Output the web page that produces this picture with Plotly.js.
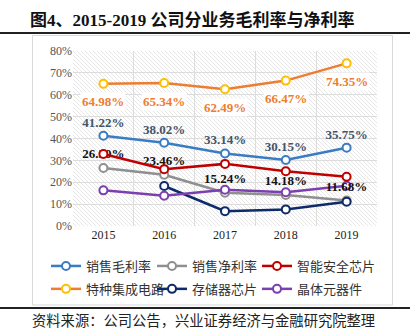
<!DOCTYPE html>
<html><head><meta charset="utf-8">
<script src="https://cdn.plot.ly/plotly-3.0.1.min.js"></script>
<style>html,body{margin:0;padding:0;background:#fff;}</style>
</head><body>
<div id="chart" style="width:420px;height:336px;"></div>
<script>
const years = ['2015','2016','2017','2018','2019'];
const grossMargin = [41.22, 38.02, 33.14, 30.15, 35.75];
const netMargin = [26.50, 23.46, 15.24, 14.18, 11.68];
const securityChip = [32.9, 26.0, 28.4, 25.0, 22.5];
const specialIC = [64.98, 65.34, 62.49, 66.47, 74.35];
const memoryChip = [null, 18.3, 6.8, 7.6, 11.1];
const crystalDevice = [16.3, 13.8, 16.6, 15.4, 18.4];
const names = ['销售毛利率','销售净利率','智能安全芯片','特种集成电路','存储器芯片','晶体元器件'];

const L = 73, T = 51, W = 304, H = 175;
const px = p => (p - L) / W;
const py = p => (T + H - p) / H;
const fmt = v => v.toFixed(2) + '%';
const serifB = 'Liberation Serif, Times New Roman, serif';

function series(name, legend, y, line, mk, extra) {
  return Object.assign({
    x: years, y: y, name: name, legend: legend, legendgroup: name, type: 'scatter', mode: 'lines+markers',
    line: {color: line, width: 2.5},
    marker: {symbol: 'circle', size: 8, color: '#ffffff', line: {color: mk, width: 2}},
    connectgaps: false, cliponaxis: false, hoverinfo: 'skip'
  }, extra || {});
}

const traces = [
  series(names[0], 'legend', grossMargin, '#3A7CC4', '#3A7CC4', {
    mode: 'lines+markers+text', text: grossMargin.map(fmt), textposition: 'top center',
    textfont: {family: serifB, size: 13, color: '#44546A', weight: 'bold'}
  }),
  series(names[3], 'legend', specialIC, '#ED7D31', '#FFC000'),
  series(names[1], 'legend2', netMargin, '#8F8F8F', '#8F8F8F'),
  series(names[4], 'legend2', memoryChip, '#0D2A6A', '#0D2A6A'),
  series(names[5], 'legend3', crystalDevice, '#7B3FB0', '#7B3FB0', {legendrank: 2}),
  {
    x: years, y: netMargin, type: 'scatter', mode: 'markers+text', showlegend: false, hoverinfo: 'skip',
    text: netMargin.map(fmt), textposition: 'top center', cliponaxis: false,
    marker: {size: 9, opacity: 0},
    textfont: {family: serifB, size: 13, color: '#111111', weight: 'bold'}
  },
  series(names[2], 'legend3', securityChip, '#C00000', '#C00000', {legendrank: 1})
];

const hatch = "<svg xmlns='http://www.w3.org/2000/svg' width='304' height='175'><defs><pattern id='p' width='4' height='4' patternUnits='userSpaceOnUse'><path d='M-1,-1 L5,5 M-1,3 L1,5 M3,-1 L5,1' stroke='#E0E0E0' stroke-width='0.8'/></pattern></defs><rect width='304' height='175' fill='url(#p)'/></svg>";

const annotations = specialIC.map((v, i) => ({
  x: i, y: v, xref: 'x', yref: 'y', text: fmt(v), showarrow: false,
  yshift: -18, bgcolor: '#ffffff', borderpad: 1,
  font: {family: serifB, size: 13, color: '#ED7D31', weight: 'bold'}
}));
annotations.push({
  xref: 'paper', yref: 'paper', x: px(30), y: py(319), xanchor: 'left', yanchor: 'middle',
  text: '资料来源：公司公告，兴业证券经济与金融研究院整理', showarrow: false,
  font: {family: 'Noto Sans CJK SC', size: 14.3, color: '#222222'}
});

const shapes = [
  {type: 'line', xref: 'paper', yref: 'paper', x0: px(0), x1: px(410), y0: py(33), y1: py(33), line: {color: '#222', width: 2}},
  {type: 'line', xref: 'paper', yref: 'paper', x0: px(0), x1: px(410), y0: py(308), y1: py(308), line: {color: '#222', width: 2}},
  {type: 'rect', xref: 'paper', yref: 'paper', x0: px(32.5), x1: px(392.5), y0: py(35.5), y1: py(305), line: {color: '#D9D9D9', width: 1}, layer: 'below'}
];

function legendAt(xpix) {
  return {
    orientation: 'v', x: px(xpix), y: py(251), xanchor: 'left', yanchor: 'top',
    traceorder: 'grouped', tracegroupgap: 3,
    font: {family: 'Noto Sans CJK SC', size: 13, color: '#333'}, bgcolor: 'rgba(0,0,0,0)'
  };
}

const layout = {
  width: 420, height: 336,
  margin: {l: L, r: 420 - L - W, t: T, b: 336 - T - H},
  paper_bgcolor: '#ffffff', plot_bgcolor: 'rgba(0,0,0,0)',
  title: {
    text: '<b>图4、2015-2019 公司分业务毛利率与净利率</b>',
    xref: 'container', yref: 'container', x: 30 / 420, xanchor: 'left', y: 1 - 20 / 336, yanchor: 'middle',
    font: {family: 'Liberation Serif, Noto Sans CJK SC', size: 17, color: '#111'}
  },
  xaxis: {
    type: 'category', range: [-0.5, 4.5], tickson: 'boundaries', showgrid: true, gridcolor: '#DDDDDD',
    ticks: '', showline: false, zeroline: false, fixedrange: true,
    tickfont: {family: 'Liberation Serif', size: 12, color: '#222'}
  },
  yaxis: {
    range: [0, 80], dtick: 10, ticksuffix: '%', showgrid: true, gridcolor: '#DDDDDD',
    zeroline: false, showline: false, ticks: '', fixedrange: true,
    tickfont: {family: 'Liberation Serif', size: 12, color: '#555'}
  },
  showlegend: true,
  legend: legendAt(46),
  legend2: legendAt(152),
  legend3: legendAt(257),
  images: [{
    source: 'data:image/svg+xml;charset=utf-8,' + encodeURIComponent(hatch),
    xref: 'paper', yref: 'paper', x: 0, y: 1, sizex: 1, sizey: 1,
    sizing: 'stretch', xanchor: 'left', yanchor: 'top', layer: 'below'
  }],
  annotations: annotations,
  shapes: shapes
};

Plotly.newPlot('chart', traces, layout, {displayModeBar: false, staticPlot: true});
</script>
</body></html>
